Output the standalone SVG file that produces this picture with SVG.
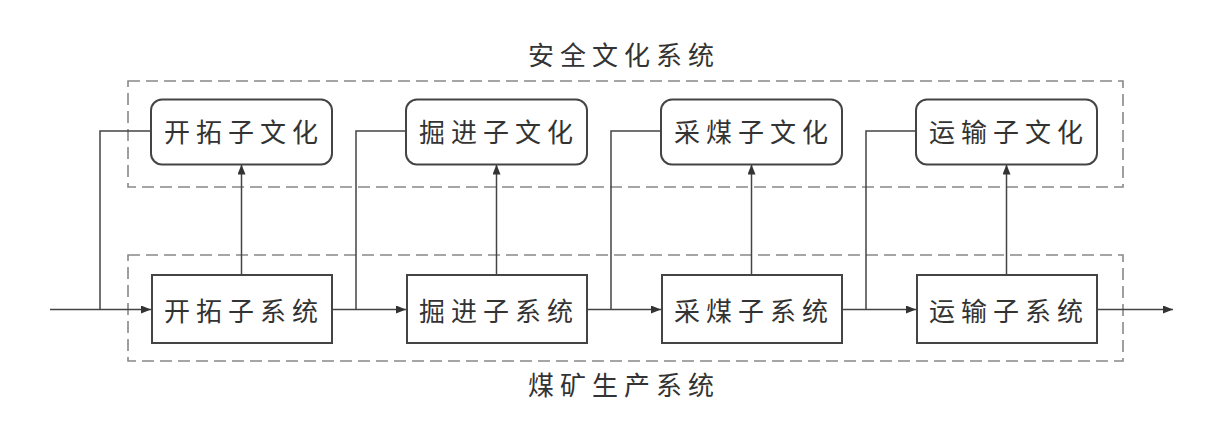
<svg xmlns="http://www.w3.org/2000/svg" width="1222" height="433" viewBox="0 0 1222 433">
<style>
.t{font-family:"Noto Sans CJK SC","Noto Sans",sans-serif;font-size:26px;fill:#333;text-anchor:middle;letter-spacing:6px}
.dash{fill:none;stroke:#888;stroke-width:1.6;stroke-dasharray:12 6}
.box{fill:#fff;stroke:#444;stroke-width:2}
.ln{fill:none;stroke:#444;stroke-width:1.5}
</style>
<defs>
<marker id="ah" viewBox="0 0 10 8" refX="10" refY="4" markerWidth="10" markerHeight="8" markerUnits="userSpaceOnUse" orient="auto">
<path d="M0,0 L10,4 L0,8 Z" fill="#333"/>
</marker>
</defs>
<rect width="1222" height="433" fill="#fff"/>
<g id="safety-culture-system">
<rect class="dash" x="128" y="81" width="995" height="106"/>
<text class="t" x="624" y="65">安全文化系统</text>
</g>
<g id="production-system">
<rect class="dash" x="128" y="255" width="995" height="106"/>
<text class="t" x="624" y="395">煤矿生产系统</text>
</g>
<g id="connectors">
<path class="ln" d="M50,309.5 H151" marker-end="url(#ah)"/>
<path class="ln" d="M100,309.5 V131 H151"/>
<path class="ln" d="M332,309.5 H406" marker-end="url(#ah)"/>
<path class="ln" d="M356,309.5 V131 H406"/>
<path class="ln" d="M587,309.5 H661" marker-end="url(#ah)"/>
<path class="ln" d="M611,309.5 V131 H661"/>
<path class="ln" d="M842,309.5 H916" marker-end="url(#ah)"/>
<path class="ln" d="M866,309.5 V131 H916"/>
<path class="ln" d="M1097,309.5 H1173" marker-end="url(#ah)"/>
<path class="ln" d="M241.5,275 V164.5" marker-end="url(#ah)"/>
<path class="ln" d="M496.5,275 V164.5" marker-end="url(#ah)"/>
<path class="ln" d="M751.5,275 V164.5" marker-end="url(#ah)"/>
<path class="ln" d="M1006.5,275 V164.5" marker-end="url(#ah)"/>
</g>
<g id="culture1"><rect class="box" x="151" y="99.5" width="181" height="65" rx="11"/><text class="t" x="244" y="141.5">开拓子文化</text></g>
<g id="culture2"><rect class="box" x="406" y="99.5" width="181" height="65" rx="11"/><text class="t" x="499" y="141.5">掘进子文化</text></g>
<g id="culture3"><rect class="box" x="661" y="99.5" width="181" height="65" rx="11"/><text class="t" x="754" y="141.5">采煤子文化</text></g>
<g id="culture4"><rect class="box" x="916" y="99.5" width="181" height="65" rx="11"/><text class="t" x="1009" y="141.5">运输子文化</text></g>
<g id="sub1"><rect class="box" x="152" y="275" width="180" height="68"/><text class="t" x="244" y="321">开拓子系统</text></g>
<g id="sub2"><rect class="box" x="407" y="275" width="180" height="68"/><text class="t" x="499" y="321">掘进子系统</text></g>
<g id="sub3"><rect class="box" x="662" y="275" width="180" height="68"/><text class="t" x="754" y="321">采煤子系统</text></g>
<g id="sub4"><rect class="box" x="917" y="275" width="180" height="68"/><text class="t" x="1009" y="321">运输子系统</text></g>
</svg>
